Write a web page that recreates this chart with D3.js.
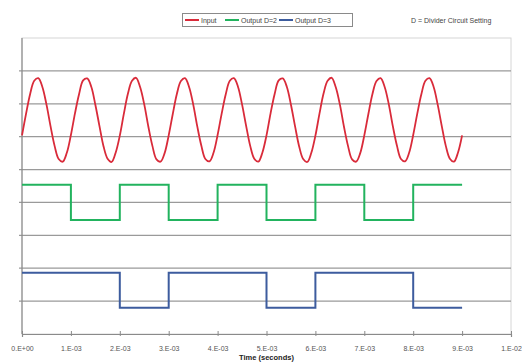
<!DOCTYPE html>
<html>
<head>
<meta charset="utf-8">
<script src="https://cdn.jsdelivr.net/npm/d3@7"></script>
<style>
  body { margin: 0; background: #fff; }
  svg { display: block; font-family: "Liberation Sans", Arial, sans-serif; }
</style>
</head>
<body>
<script>
// time samples for the input sine (ms, every 1/12 ms)
const sineTimes = d3.range(0, 109).map(i => i / 12);
const inputValues = [
  6.04, 6.70, 7.30, 7.70, 7.78, 7.51, 6.98, 6.32, 5.72, 5.32, 5.24, 5.51,
  6.05, 6.71, 7.29, 7.71, 7.77, 7.52, 6.97, 6.33, 5.71, 5.33, 5.23, 5.52,
  6.03, 6.70, 7.31, 7.70, 7.79, 7.50, 6.98, 6.31, 5.72, 5.31, 5.24, 5.50,
  6.04, 6.69, 7.30, 7.69, 7.78, 7.51, 6.99, 6.32, 5.73, 5.32, 5.25, 5.51,
  6.05, 6.70, 7.29, 7.70, 7.78, 7.52, 6.98, 6.33, 5.72, 5.33, 5.24, 5.52,
  6.04, 6.71, 7.30, 7.71, 7.77, 7.51, 6.97, 6.32, 5.71, 5.32, 5.23, 5.51,
  6.03, 6.70, 7.31, 7.70, 7.79, 7.50, 6.98, 6.31, 5.72, 5.31, 5.24, 5.50,
  6.04, 6.69, 7.30, 7.69, 7.78, 7.51, 6.99, 6.32, 5.73, 5.32, 5.25, 5.51,
  6.05, 6.70, 7.29, 7.70, 7.78, 7.52, 6.98, 6.33, 5.72, 5.33, 5.24, 5.52,
  6.04
];
// square wave outputs: edge times (ms) and level after each edge
const d2Times = [0, 1, 2, 3, 4, 5, 6, 7, 8, 9];
const d2Values = [4.54, 3.47, 4.54, 3.47, 4.54, 3.47, 4.54, 3.47, 4.54, 4.54];
const d3Times = [0, 2, 3, 5, 6, 8, 9];
const d3Values = [1.86, 0.80, 1.86, 0.80, 1.86, 0.80, 0.80];

const xTicks = d3.range(0, 11).map(i => i / 1000);
const yTicks = d3.range(1, 9);
const seriesNames = ["Input", "Output D=2", "Output D=3"];
const seriesColors = ["#d92b3a", "#22b35e", "#3d5c9e"];

const width = 522, height = 362;
const margin = { left: 22, right: 11, top: 38, bottom: 28 };

const x = d3.scaleLinear().domain([0, 0.01]).range([margin.left, width - margin.right]);
const y = d3.scaleLinear().domain([0, 9]).range([height - margin.bottom, margin.top]);

const svg = d3.select("body").append("svg")
  .attr("width", width)
  .attr("height", height);

// plot border
svg.append("rect")
  .attr("x", x(0)).attr("y", y(9))
  .attr("width", x(0.01) - x(0)).attr("height", y(0) - y(9))
  .attr("fill", "none").attr("stroke", "#d6d6d6");

// gridlines
svg.append("g")
  .selectAll("line")
  .data(yTicks)
  .join("line")
  .attr("x1", x(0) - 3).attr("x2", x(0.01))
  .attr("y1", d => y(d)).attr("y2", d => y(d))
  .attr("stroke", "#9a9a9a").attr("stroke-width", 1.2);

// y axis line
svg.append("line")
  .attr("x1", x(0)).attr("x2", x(0))
  .attr("y1", y(9)).attr("y2", y(0))
  .attr("stroke", "#8a8a8a").attr("stroke-width", 1.2);

// x axis
const fmt = d => {
  if (d === 0) return "0.E+00";
  const e = Math.floor(Math.log10(d) + 1e-9);
  const m = Math.round(d / Math.pow(10, e));
  const s = e < 0 ? "-" : "+";
  return `${m}.E${s}${String(Math.abs(e)).padStart(2, "0")}`;
};
const xAxis = svg.append("g")
  .attr("transform", `translate(0,${y(0)})`)
  .call(d3.axisBottom(x).tickValues(xTicks).tickFormat(fmt).tickSize(3).tickPadding(9));
xAxis.select(".domain").attr("stroke", "#8a8a8a").attr("stroke-width", 1.2);
xAxis.selectAll(".tick line").attr("stroke", "#8a8a8a").attr("y1", -3).attr("y2", 2);
xAxis.selectAll(".tick text")
  .attr("fill", "#555").style("font-size", "7px");

svg.append("text")
  .attr("x", x(0.005)).attr("y", 360)
  .attr("text-anchor", "middle")
  .style("font-size", "7.5px").style("font-weight", "bold")
  .attr("fill", "#222")
  .text("Time (seconds)");

// series
const line = d3.line().x(d => x(d[0] / 1000)).y(d => y(d[1])).curve(d3.curveCatmullRom);
svg.append("path")
  .attr("fill", "none").attr("stroke", seriesColors[0]).attr("stroke-width", 1.8)
  .attr("d", line(d3.zip(sineTimes, inputValues)));

const stepLine = d3.line().x(d => x(d[0] / 1000)).y(d => y(d[1])).curve(d3.curveStepAfter);
svg.append("path")
  .attr("fill", "none").attr("stroke", seriesColors[1]).attr("stroke-width", 2)
  .attr("d", stepLine(d3.zip(d2Times, d2Values)));
svg.append("path")
  .attr("fill", "none").attr("stroke", seriesColors[2]).attr("stroke-width", 2)
  .attr("d", stepLine(d3.zip(d3Times, d3Values)));

// legend
const legend = svg.append("g");
legend.append("rect")
  .attr("x", 182.5).attr("y", 13.5).attr("width", 170).attr("height", 13)
  .attr("fill", "#fff").attr("stroke", "#8a8a8a");
const legendX = [185, 225, 279];
seriesNames.forEach((name, i) => {
  legend.append("line")
    .attr("x1", legendX[i]).attr("x2", legendX[i] + 14)
    .attr("y1", 20).attr("y2", 20)
    .attr("stroke", seriesColors[i]).attr("stroke-width", 2);
  legend.append("text")
    .attr("x", legendX[i] + 16).attr("y", 22.5)
    .style("font-size", "7px").attr("fill", "#444")
    .text(name);
});

svg.append("text")
  .attr("x", 411).attr("y", 23)
  .style("font-size", "7px").attr("fill", "#444")
  .text("D = Divider Circuit Setting");
</script>
</body>
</html>
